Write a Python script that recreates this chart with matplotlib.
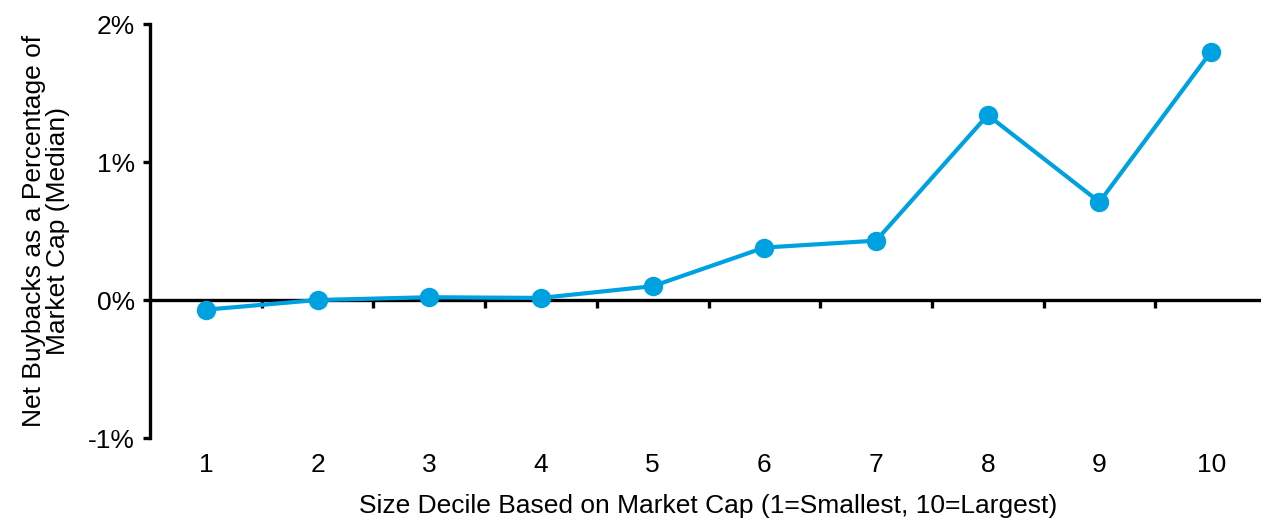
import numpy as np
import matplotlib.pyplot as plt
from matplotlib.ticker import FuncFormatter

# size deciles and median net buyback yield (% of market cap)
deciles = [1, 2, 3, 4, 5, 6, 7, 8, 9, 10]
buyback_pct = [-0.07, 0.0, 0.02, 0.015, 0.10, 0.38, 0.43, 1.34, 0.71, 1.80]
y_ticks = [-1, 0, 1, 2]

plt.rcParams['font.family'] = ['Liberation Sans', 'DejaVu Sans']
line_color = '#00A1E0'
fs = 19

fig = plt.figure(figsize=(12.61, 5.21), dpi=100)
ax = fig.add_axes([150 / 1261, 1 - 438 / 521, 1117 / 1261, 414 / 521])

ax.plot(deciles, buyback_pct, color=line_color, lw=3.0, marker='o',
	markersize=14, markeredgewidth=0, zorder=5, clip_on=False)

ax.set_xlim(0.5, 10.5)
ax.set_ylim(-1, 2)
ax.set_yticks(y_ticks)
ax.yaxis.set_major_formatter(FuncFormatter(lambda v, p: '{:.0f}%'.format(v)))

for side in ['top', 'right', 'bottom']:
	ax.spines[side].set_visible(False)
ax.spines['left'].set_linewidth(2.4)
ax.tick_params(axis='y', direction='out', length=5, width=2.4, labelsize=fs, pad=6)

# category labels along the bottom, no tick marks
ax.set_xticks(deciles)
ax.tick_params(axis='x', length=0, labelsize=fs, pad=11)

# zero line with ticks between categories
zero_pos = (0 - (-1)) / 3
sec = ax.secondary_xaxis(zero_pos)
sec.set_xticks(np.arange(1.5, 10.5, 1))
sec.tick_params(axis='x', direction='out', length=6, width=2.4, labelbottom=False)
sec.spines['bottom'].set_linewidth(2.4)

ax.set_xlabel('Size Decile Based on Market Cap (1=Smallest, 10=Largest)', fontsize=fs, labelpad=12)
ax.set_ylabel('Net Buybacks as a Percentage of\nMarket Cap (Median)', fontsize=fs, labelpad=13,
	linespacing=1.0)

fig.savefig('out.png', dpi=100)
